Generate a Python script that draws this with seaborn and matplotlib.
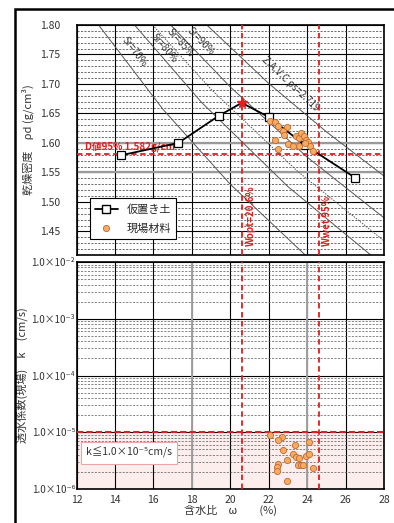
import numpy as np
import pandas as pd
import matplotlib
matplotlib.use("Agg")
import matplotlib.pyplot as plt
import seaborn as sns
from matplotlib.lines import Line2D
from matplotlib.patches import Rectangle
from matplotlib.ticker import MultipleLocator, FixedLocator, LogLocator, NullFormatter

# ---------------- data ----------------
# compaction curve (仮置き土)
curve_w = [14.3, 17.3, 19.4, 20.6, 22.0, 23.9, 26.5]
curve_rho = [1.579, 1.600, 1.646, 1.668, 1.644, 1.596, 1.541]
curve_has_marker = [0, 1, 2, 4, 5, 6]
peak_w = [20.6]
peak_rho = [1.668]

# field material (現場材料) dry density
field_w = [22.08, 22.34, 22.46, 22.94, 22.72, 22.81, 22.34, 22.51, 22.98, 23.41,
           23.58, 23.67, 23.84, 23.93, 24.07, 24.14, 24.28, 23.27, 23.58, 23.88]
field_rho = [1.638, 1.635, 1.629, 1.627, 1.621, 1.614, 1.605, 1.590, 1.599, 1.612,
             1.608, 1.617, 1.611, 1.605, 1.601, 1.594, 1.586, 1.594, 1.595, 1.600]

# field permeability
perm_w = [22.07, 22.68, 22.48, 23.37, 24.10, 22.76, 23.29, 23.41, 23.58, 23.93,
          24.10, 22.97, 22.48, 22.42, 22.42, 23.52, 23.67, 23.76, 24.31, 22.97]
perm_k = [9.1e-6, 8.3e-6, 7.2e-6, 6.0e-6, 6.6e-6, 4.9e-6, 4.1e-6, 3.7e-6, 3.5e-6, 3.8e-6,
          4.1e-6, 3.2e-6, 2.8e-6, 2.4e-6, 2.1e-6, 2.6e-6, 2.6e-6, 2.6e-6, 2.3e-6, 1.4e-6]

# saturation curves
sr_names = ["Sr=70%", "Sr=80%", "Sr=85%", "Sr=90%", "Z.A.V.C ρs=2.719"]
sr_w = [[13.15, 16.5, 20.0, 23.90],
        [15.02, 18.5, 23.0, 27.31],
        [15.96, 19.0, 23.5, 28.0],
        [16.90, 20.0, 24.0, 28.0],
        [18.78, 22.0, 25.0, 28.0]]
sr_rho = [[1.80, 1.657, 1.530, 1.41],
          [1.80, 1.669, 1.526, 1.41],
          [1.80, 1.691, 1.552, 1.434],
          [1.80, 1.695, 1.576, 1.473],
          [1.80, 1.701, 1.619, 1.544]]
sr_label_pos = [(15.0, 1.755), (16.55, 1.760), (17.42, 1.770), (18.46, 1.773), (23.15, 1.700)]

w_opt = 20.6
w_wet95 = 24.6
rho_d95 = 1.582
k_limit = 1.0e-5

x_ticks = [12, 14, 16, 18, 20, 22, 24, 26, 28]
rho_ticks = [1.45, 1.50, 1.55, 1.60, 1.65, 1.70, 1.75, 1.80]
k_ticks = [1e-6, 1e-5, 1e-4, 1e-3, 1e-2]
k_tick_labels = ["1.0×10⁻⁶", "1.0×10⁻⁵", "1.0×10⁻⁴", "1.0×10⁻³", "1.0×10⁻²"]

# ---------------- style ----------------
sns.set_style("white")
plt.rcParams['font.family'] = ['Noto Sans CJK JP', 'DejaVu Sans']
plt.rcParams['axes.unicode_minus'] = False

W, H = 394, 523
fig = plt.figure(figsize=(W / 100, H / 100), dpi=100)
ax1 = fig.add_axes([76.5 / W, 1 - 255 / H, (384 - 76.5) / W, (255 - 25) / H])
ax2 = fig.add_axes([76.5 / W, 1 - 489 / H, (384 - 76.5) / W, (489 - 262) / H])

RED = '#e11d1d'
ORANGE = '#f6aa62'
ORANGE_E = '#c06a30'
TICKC = '#333333'

for ax in (ax1, ax2):
    ax.set_xlim(12, 28)
    ax.xaxis.set_major_locator(FixedLocator(x_ticks))
    for s in ax.spines.values():
        s.set_color('black')
        s.set_linewidth(1.2)
    ax.tick_params(length=0, labelsize=7.5, labelcolor=TICKC)
    ax.set_axisbelow(True)

# ---- upper axes ----
ax1.set_ylim(1.41, 1.80)
ax1.yaxis.set_major_locator(FixedLocator(rho_ticks))
ax1.yaxis.set_minor_locator(MultipleLocator(0.01))
ax1.set_yticklabels([f"{v:.2f}" for v in rho_ticks])
ax1.tick_params(axis='y', pad=12)
ax1.set_xticklabels([])
ax1.grid(which='major', axis='both', color='black', lw=0.8)
ax1.grid(which='minor', axis='y', color='#333333', lw=0.5, linestyle=(0, (3, 2)))
for v in (1.55, 1.60):
    ax1.axhline(v, color='#9a9a9a', lw=1.6, zorder=0.6)

# saturation lines
for i, (name, ws, rs) in enumerate(zip(sr_names, sr_w, sr_rho)):
    ls = (0, (1.5, 1.2)) if name == "Sr=85%" else '-'
    df = pd.DataFrame({'w': ws, 'rho': rs})
    sns.lineplot(data=df, x='w', y='rho', ax=ax1, color='#555555', lw=0.7,
                 linestyle=ls, sort=False, estimator=None, zorder=2)
fig.canvas.draw()
for name, ws, rs, (tx, ty) in zip(sr_names, sr_w, sr_rho, sr_label_pos):
    p0 = ax1.transData.transform((ws[0], rs[0]))
    p1 = ax1.transData.transform((ws[1], rs[1]))
    ang = np.degrees(np.arctan2(p1[1] - p0[1], p1[0] - p0[0]))
    ax1.text(tx, ty, name, rotation=ang, rotation_mode='anchor', ha='center', va='center',
             fontsize=7, color='#333333', zorder=3)

# red reference lines
ax1.axhline(rho_d95, color=RED, lw=1.3, linestyle=(0, (3, 2)), zorder=3)
for ax in (ax1, ax2):
    ax.axvline(w_opt, color=RED, lw=1.3, linestyle=(0, (3, 2)), zorder=3)
    ax.axvline(w_wet95, color=RED, lw=1.3, linestyle=(0, (3, 2)), zorder=3)

ax1.text(12.45, rho_d95 + 0.002, "D値95% 1.582g/cm³", color=RED, fontsize=7,
         fontweight='bold', ha='left', va='bottom', zorder=4)
ax1.text(w_opt + 0.45, 1.425, "Wopt=20.6%", color=RED, fontsize=7, fontweight='bold',
         rotation=90, ha='center', va='bottom', zorder=4)
ax1.text(w_wet95 + 0.45, 1.425, "Wwet 95%", color=RED, fontsize=7, fontweight='bold',
         rotation=90, ha='center', va='bottom', zorder=4)

# compaction curve
cdf = pd.DataFrame({'w': curve_w, 'rho': curve_rho})
sns.lineplot(data=cdf, x='w', y='rho', ax=ax1, color='black', lw=1.3, sort=False,
             estimator=None, marker='s', markersize=6, markerfacecolor='white',
             markeredgecolor='black', markeredgewidth=0.9, markevery=curve_has_marker, zorder=5)
ax1.plot(peak_w, peak_rho, marker='*', color=RED, markersize=8, linestyle='none', zorder=6)

# field points
fdf = pd.DataFrame({'w': field_w, 'rho': field_rho})
sns.scatterplot(data=fdf, x='w', y='rho', ax=ax1, color=ORANGE, edgecolor=ORANGE_E,
                linewidth=0.6, s=20, zorder=7)

ax1.set_xlabel('')
ax1.set_ylabel("乾燥密度　ρd (g/cm³)", fontsize=8, color=TICKC, labelpad=4)

handles = [Line2D([], [], color='black', lw=1.3, marker='s', markersize=6,
                  markerfacecolor='white', markeredgecolor='black'),
           Line2D([], [], color=ORANGE, marker='o', linestyle='none', markersize=4.5,
                  markeredgecolor=ORANGE_E, markeredgewidth=0.6)]
leg = ax1.legend(handles, ["仮置き土", "現場材料"], loc='lower left', bbox_to_anchor=(0.025, 0.045),
                 fontsize=8, frameon=True, fancybox=False, edgecolor='black',
                 handlelength=2.0, borderpad=0.5, labelspacing=0.8, framealpha=1)
leg.get_frame().set_linewidth(0.8)
leg.set_zorder(10)

# ---- lower axes ----
ax2.set_yscale('log')
ax2.set_ylim(1e-6, 1e-2)
ax2.yaxis.set_major_locator(FixedLocator(k_ticks))
ax2.set_yticklabels(k_tick_labels)
ax2.yaxis.set_minor_locator(LogLocator(base=10, subs=np.arange(2, 10)))
ax2.yaxis.set_minor_formatter(NullFormatter())
ax2.tick_params(axis='y', pad=1, labelsize=7)
ax2.set_xticklabels([str(v) for v in x_ticks])
ax2.tick_params(axis='x', pad=4)
ax2.grid(which='major', axis='both', color='black', lw=0.8)
ax2.grid(which='minor', axis='y', color='#555555', lw=0.5, linestyle=(0, (3, 2)))
for v in (18, 24):
    ax2.axvline(v, color='#a0a0a0', lw=1.4, zorder=0.6)
ax2.axhspan(1e-6, k_limit, color='#fdeeee', zorder=0.1)
ax2.axhline(k_limit, color=RED, lw=1.5, linestyle=(0, (3, 1.5)), zorder=3)

pdf = pd.DataFrame({'w': perm_w, 'k': perm_k})
sns.scatterplot(data=pdf, x='w', y='k', ax=ax2, color=ORANGE, edgecolor=ORANGE_E,
                linewidth=0.6, s=20, zorder=7)

ax2.text(0.03, 0.16, "k≦1.0×10⁻⁵cm/s", transform=ax2.transAxes, fontsize=7.5,
         color='#333333', ha='left', va='center', zorder=8,
         bbox=dict(boxstyle='square,pad=0.5', fc='white', ec='#e8a8a8', lw=0.8))

ax2.set_xlabel("含水比　ω　　(%)", fontsize=8, color=TICKC, labelpad=0)
ax2.set_ylabel("透水係数(現場)　k　(cm/s)", fontsize=8, color=TICKC, labelpad=2)

# outer frame
fig.patches.append(Rectangle((15 / W, -0.1), 1.2, 1 - 9 / H + 0.1, transform=fig.transFigure,
                             fill=False, ec='black', lw=1.8, zorder=0))

fig.savefig("out.png", dpi=100)
